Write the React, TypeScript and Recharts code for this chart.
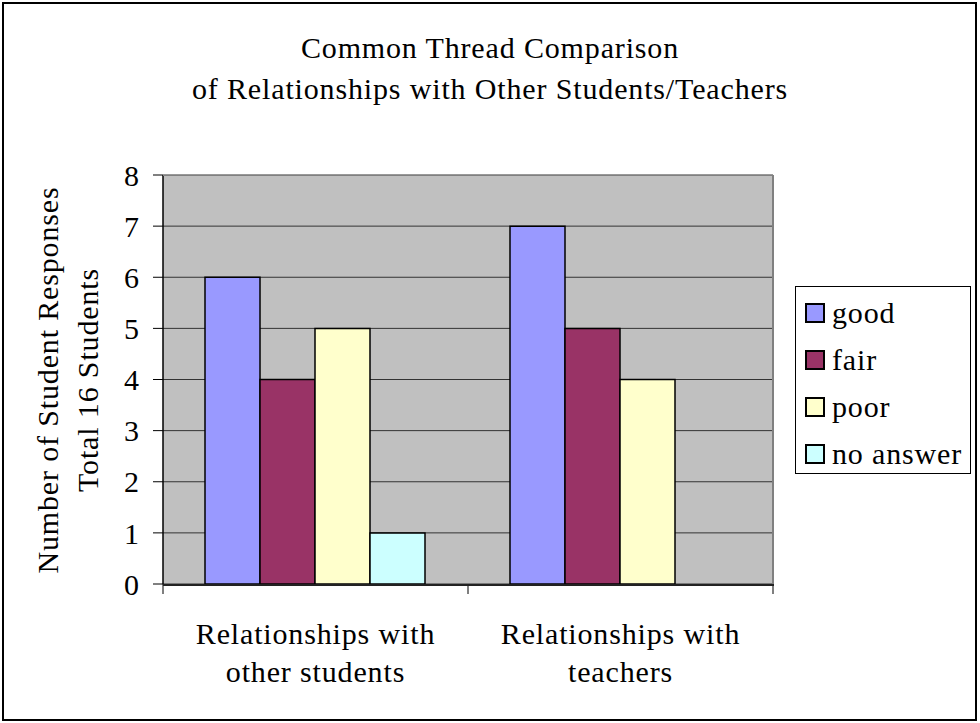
import React from "react";
import { BarChart, Bar, XAxis, YAxis, CartesianGrid } from "recharts";

const categories = ["Relationships with other students", "Relationships with teachers"];
const good = [6, 7];
const fair = [4, 5];
const poor = [5, 4];
const noAnswer = [1, 0];
const yTicks = [0, 1, 2, 3, 4, 5, 6, 7, 8];

const SERIES = [
  { key: "good", label: "good", color: "#9999FF", values: good },
  { key: "fair", label: "fair", color: "#993366", values: fair },
  { key: "poor", label: "poor", color: "#FFFFCC", values: poor },
  { key: "noAnswer", label: "no answer", color: "#CCFFFF", values: noAnswer },
];

const data = categories.map((name, i) => {
  const row: Record<string, string | number> = { name, pos: i + 0.5 };
  SERIES.forEach((s) => (row[s.key] = s.values[i]));
  return row;
});

const FONT = "Liberation Serif, Tinos, Times New Roman, serif";
const FS = 30;
const LS = 0.85;

function CategoryTick({ x, y, payload }: any) {
  const words = String(payload.value).split(" ");
  const first = words.slice(0, 2).join(" ");
  const second = words.slice(2).join(" ");
  return (
    <text x={x} y={y} textAnchor="middle" fontFamily={FONT} fontSize={FS} letterSpacing={LS} fill="#000">
      <tspan x={x} dy={40}>{first}</tspan>
      <tspan x={x} dy={38}>{second}</tspan>
    </text>
  );
}

// empty tick: the edge axis only draws the little tick marks between categories
const NoLabel = () => <g />;

// legend drawn by hand so it keeps the series order and does not eat plot width
function LegendBox() {
  return (
    <div
      style={{
        position: "absolute",
        left: 795,
        top: 286,
        border: "1px solid #000",
        width: 176,
        height: 188,
        boxSizing: "border-box",
        padding: "2px 0 0 9px",
        background: "#fff",
      }}
    >
      {SERIES.map((s) => (
        <div
          key={s.key}
          style={{
            display: "flex",
            alignItems: "center",
            height: 47,
            fontFamily: FONT,
            fontSize: FS,
            letterSpacing: LS,
            whiteSpace: "nowrap",
          }}
        >
          <span
            style={{
              display: "inline-block",
              flex: "none",
              width: 20,
              height: 20,
              boxSizing: "border-box",
              border: "2px solid #000",
              background: s.color,
              marginRight: 7,
            }}
          />
          <span>{s.label}</span>
        </div>
      ))}
    </div>
  );
}

export default function App() {
  return (
    <div style={{ position: "absolute", left: 0, top: 0, width: 980, height: 723, background: "#fff" }}>
      <div
        style={{
          position: "absolute",
          left: 2,
          top: 2,
          width: 975,
          height: 719,
          border: "2px solid #000",
          boxSizing: "border-box",
        }}
      />
      <div
        style={{
          position: "absolute",
          left: 0,
          top: 27,
          width: 980,
          textAlign: "center",
          fontFamily: FONT,
          fontSize: FS,
          letterSpacing: LS,
          lineHeight: "41px",
        }}
      >
        <div>Common Thread Comparison</div>
        <div>of Relationships with Other Students/Teachers</div>
      </div>
      <div
        style={{
          position: "absolute",
          left: -142,
          top: 340,
          width: 420,
          height: 80,
          transform: "rotate(-90deg)",
          textAlign: "center",
          fontFamily: FONT,
          fontSize: FS,
          letterSpacing: LS,
          lineHeight: "40px",
          whiteSpace: "nowrap",
        }}
      >
        <div>Number of Student Responses</div>
        <div>Total 16 Students</div>
      </div>
      <div style={{ position: "absolute", left: 0, top: 0 }}>
        <BarChart
          width={980}
          height={723}
          data={data}
          margin={{ top: 175, right: 207, left: 0, bottom: 39 }}
          barCategoryGap={42}
          barGap={0}
        >
          <CartesianGrid vertical={false} fill="#C0C0C0" stroke="#333" strokeOpacity={1} />
          <XAxis
            dataKey="pos"
            type="number"
            domain={[0, 2]}
            ticks={[0, 1, 2]}
            tick={<NoLabel />}
            tickSize={10}
            height={12}
            axisLine={false}
            tickLine={{ stroke: "#000" }}
          />
          <XAxis
            xAxisId="cat"
            dataKey="name"
            height={88}
            axisLine={false}
            tickLine={false}
            interval={0}
            tick={<CategoryTick />}
          />
          <YAxis
            width={163}
            domain={[0, 8]}
            ticks={yTicks}
            interval={0}
            tickSize={10}
            tickMargin={14}
            axisLine={{ stroke: "#000", strokeWidth: 1.5 }}
            tickLine={{ stroke: "#000" }}
            tick={{ fontFamily: FONT, fontSize: FS, fill: "#000" }}
          />
          {SERIES.map((s) => (
            <Bar
              key={s.key}
              xAxisId="cat"
              dataKey={s.key}
              name={s.label}
              fill={s.color}
              stroke="#000"
              strokeWidth={1.5}
              isAnimationActive={false}
            />
          ))}
        </BarChart>
      </div>
      <LegendBox />
      <div
        style={{
          position: "absolute",
          left: 163,
          top: 175,
          width: 611,
          height: 410,
          borderTop: "1px solid #808080",
          borderRight: "2px solid #808080",
          boxSizing: "border-box",
          pointerEvents: "none",
        }}
      />
      <div
        style={{
          position: "absolute",
          left: 163,
          top: 584,
          width: 611,
          height: 1.5,
          background: "#222",
          pointerEvents: "none",
        }}
      />
    </div>
  );
}
